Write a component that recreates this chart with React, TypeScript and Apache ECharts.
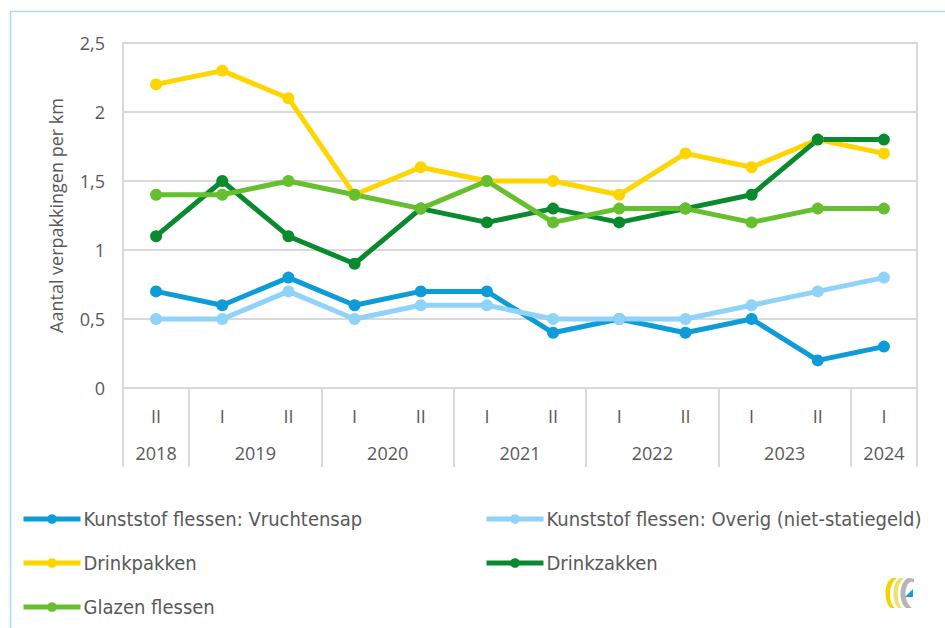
import React, { useEffect, useRef } from "react";
import * as echarts from "echarts";

// ---- data ----
const halfYears = ["II", "I", "II", "I", "II", "I", "II", "I", "II", "I", "II", "I"];
const years = ["2018", "2019", "2020", "2021", "2022", "2023", "2024"];
// boundaries between year groups (in category-index units)
const yearBoundaries = [0, 1, 3, 5, 7, 9, 11, 12];
const yTicks = { min: 0, max: 2.5, interval: 0.5 };

const vruchtensap = [0.7, 0.6, 0.8, 0.6, 0.7, 0.7, 0.4, 0.5, 0.4, 0.5, 0.2, 0.3];
const overig = [0.5, 0.5, 0.7, 0.5, 0.6, 0.6, 0.5, 0.5, 0.5, 0.6, 0.7, 0.8];
const drinkpakken = [2.2, 2.3, 2.1, 1.4, 1.6, 1.5, 1.5, 1.4, 1.7, 1.6, 1.8, 1.7];
const drinkzakken = [1.1, 1.5, 1.1, 0.9, 1.3, 1.2, 1.3, 1.2, 1.3, 1.4, 1.8, 1.8];
const glazen = [1.4, 1.4, 1.5, 1.4, 1.3, 1.5, 1.2, 1.3, 1.3, 1.2, 1.3, 1.3];

const seriesNames = [
  "Kunststof flessen: Vruchtensap",
  "Kunststof flessen: Overig (niet-statiegeld)",
  "Drinkpakken",
  "Drinkzakken",
  "Glazen flessen",
];
const seriesData = [vruchtensap, overig, drinkpakken, drinkzakken, glazen];
const seriesColors = ["#0d9cd8", "#8fd3f8", "#ffd500", "#0a8a2e", "#66bf2e"];

const yAxisName = "Aantal verpakkingen per km";

// logo paths
const logoA = "M10 0 C2 4 1 24 9 30 L13 30 C6 24 6 6 15 0 Z";
const logoB = "M18 0 C10 4 9 24 17 30 L20 30 C14 24 14 6 22 0 Z";
const logoC = "M26 0 C17 4 16 24 24 30 L30 30 C22 24 22 9 27 5 C29 3 31 4 32 5 L32 1 C30 0 28 0 26 0 Z";
echarts.graphic.registerShape("logoA", echarts.graphic.extendPath(logoA, {}));
echarts.graphic.registerShape("logoB", echarts.graphic.extendPath(logoB, {}));
echarts.graphic.registerShape("logoC", echarts.graphic.extendPath(logoC, {}));

const AXIS_FONT = "'Open Sans', 'DejaVu Sans', sans-serif";
const LEGEND_FONT = "'DejaVu Sans Condensed', 'DejaVu Sans', sans-serif";
const TEXT_COLOR = "#595959";
const GRID_COLOR = "#d9d9d9";

export default function App() {
  const ref = useRef<HTMLDivElement>(null);

  useEffect(() => {
    if (!ref.current) return;
    const chart = echarts.init(ref.current, null, { renderer: "svg" });

    const yearCenters = years.map((_, i) => (yearBoundaries[i] + yearBoundaries[i + 1]) / 2);

    const legendPositions = [
      { left: 21, top: 509 },
      { left: 484, top: 509 },
      { left: 21, top: 553 },
      { left: 484, top: 553 },
      { left: 21, top: 597 },
    ];

    const option: any = {
      animation: false,
      backgroundColor: "#ffffff",
      grid: {
        left: 123,
        top: 43,
        right: 28,
        bottom: 240,
        show: true,
        borderColor: GRID_COLOR,
        borderWidth: 2,
        containLabel: false,
      },
      xAxis: [
        {
          type: "category",
          data: halfYears,
          boundaryGap: true,
          axisLine: { show: true, lineStyle: { color: GRID_COLOR, width: 2 } },
          axisTick: { show: false },
          axisLabel: {
            color: TEXT_COLOR,
            fontFamily: AXIS_FONT,
            fontSize: 18,
            margin: 19,
          },
        },
        {
          type: "value",
          min: 0,
          max: 12,
          position: "bottom",
          axisLine: { show: false },
          splitLine: { show: false },
          axisTick: {
            show: true,
            customValues: yearBoundaries,
            length: 79,
            lineStyle: { color: GRID_COLOR, width: 2 },
          },
          axisLabel: {
            customValues: yearCenters,
            color: TEXT_COLOR,
            fontFamily: AXIS_FONT,
            fontSize: 18,
            margin: 56,
            formatter: (v: number) => {
              const idx = yearCenters.findIndex((c) => Math.abs(c - v) < 1e-6);
              return idx >= 0 ? years[idx] : "";
            },
          },
        },
      ],
      yAxis: {
        type: "value",
        min: yTicks.min,
        max: yTicks.max,
        interval: yTicks.interval,
        name: yAxisName,
        nameLocation: "middle",
        nameGap: 58,
        nameRotate: 90,
        nameTextStyle: { color: TEXT_COLOR, fontFamily: AXIS_FONT, fontSize: 18 },
        axisLine: { show: false },
        axisTick: { show: false },
        splitLine: { show: true, lineStyle: { color: GRID_COLOR, width: 2 } },
        axisLabel: {
          color: TEXT_COLOR,
          fontFamily: AXIS_FONT,
          fontSize: 18,
          margin: 18,
          formatter: (v: number) => String(v).replace(".", ","),
        },
      },
      legend: seriesNames.map((name, i) => ({
        data: [name],
        left: legendPositions[i].left,
        top: legendPositions[i].top,
        padding: 0,
        itemWidth: 57,
        itemHeight: 12,
        itemGap: 0,
        selectedMode: false,
        lineStyle: { width: 5 },
        itemStyle: { borderWidth: 0 },
        textStyle: { color: TEXT_COLOR, fontFamily: LEGEND_FONT, fontSize: 20, padding: [0, 0, 0, -2] },
      })),
      series: seriesNames.map((name, i) => ({
        name,
        type: "line",
        xAxisIndex: 0,
        data: seriesData[i],
        symbol: "circle",
        symbolSize: 12,
        color: seriesColors[i],
        lineStyle: { width: 5, color: seriesColors[i] },
        itemStyle: { color: seriesColors[i], borderWidth: 0 },
      })),
      graphic: [
        {
          type: "rect",
          shape: { x: 10.5, y: 11.5, width: 2000, height: 2000 },
          style: { fill: "none", stroke: "#a8dcf2", lineWidth: 1.5 },
          silent: true,
        },
        {
          type: "group",
          x: 882,
          y: 578,
          children: [
            { type: "logoA", style: { fill: "#f2d400" } },
            { type: "logoB", style: { fill: "#efe06a" } },
            { type: "logoC", style: { fill: "#b5b5b5" } },
            { type: "polygon", shape: { points: [[23, 19], [31, 11], [31, 19]] }, style: { fill: "#1a9ad6" } },
          ],
        },
      ],
    };

    chart.setOption(option);
    return () => chart.dispose();
  }, []);

  return (
    <div
      ref={ref}
      style={{ position: "absolute", left: 0, top: 0, width: 945, height: 628, background: "#fff" }}
    />
  );
}
